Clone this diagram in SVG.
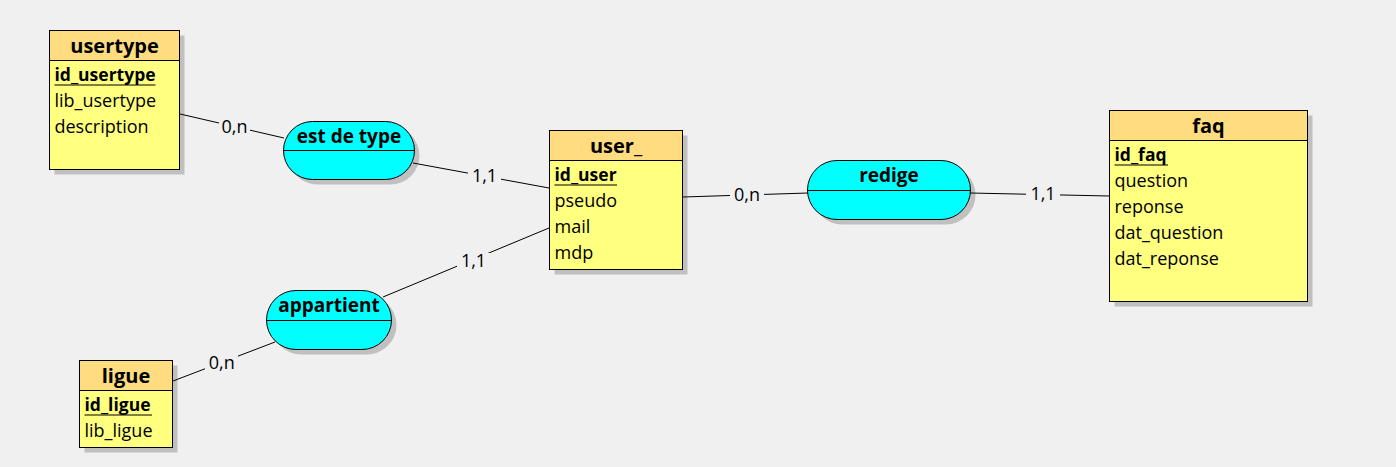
<svg xmlns="http://www.w3.org/2000/svg" width="1396" height="467" viewBox="0 0 1396 467">
<style>
text{font-family:"Open Sans","Noto Sans","DejaVu Sans",sans-serif;fill:#000}
.sh{fill:#c0c0c0}
.hd{fill:#ffdc80;stroke:#000;stroke-width:1}
.bd{fill:#ffff80;stroke:#000;stroke-width:1}
.pl{fill:#00ffff;stroke:#000;stroke-width:1}
.dv{stroke:#000;stroke-width:1}
.t{font-size:20px;font-weight:bold;text-anchor:middle}
.pt{font-size:19px;font-weight:bold;text-anchor:middle}
.k{font-size:17.5px;font-weight:bold}
.a{font-size:18px}
.ul{stroke:#000;stroke-width:1.2}
.ln{stroke:#000;stroke-width:1;fill:none}
.bg{fill:#f0f0f0}
.lb{font-size:18px;text-anchor:middle}
</style>
<rect width="1396" height="467" fill="#f0f0f0"/>
<g id="usertype">
<rect class="sh" x="54.5" y="35.5" width="130" height="139"/>
<rect class="bd" x="49.5" y="30.5" width="130" height="139"/>
<rect class="hd" x="49.5" y="30.5" width="130" height="30"/>
<text class="t" x="114.5" y="53">usertype</text>
<text class="k" x="54.5" y="81">id_usertype</text>
<line class="ul" x1="54.5" y1="85" x2="155.5" y2="85"/>
<text class="a" x="54.5" y="107">lib_usertype</text>
<text class="a" x="54.5" y="133">description</text>
</g>
<g id="user_">
<rect class="sh" x="554.5" y="135.5" width="133" height="139"/>
<rect class="bd" x="549.5" y="130.5" width="133" height="139"/>
<rect class="hd" x="549.5" y="130.5" width="133" height="30"/>
<text class="t" x="616" y="153">user_</text>
<text class="k" x="554.5" y="181">id_user</text>
<line class="ul" x1="554.5" y1="185" x2="617" y2="185"/>
<text class="a" x="554.5" y="207">pseudo</text>
<text class="a" x="554.5" y="233">mail</text>
<text class="a" x="554.5" y="259">mdp</text>
</g>
<g id="faq">
<rect class="sh" x="1114.5" y="115.5" width="198" height="191"/>
<rect class="bd" x="1109.5" y="110.5" width="198" height="191"/>
<rect class="hd" x="1109.5" y="110.5" width="198" height="30"/>
<text class="t" x="1208.5" y="133">faq</text>
<text class="k" x="1114.5" y="161">id_faq</text>
<line class="ul" x1="1114.5" y1="165" x2="1168" y2="165"/>
<text class="a" x="1114.5" y="187">question</text>
<text class="a" x="1114.5" y="213">reponse</text>
<text class="a" x="1114.5" y="239">dat_question</text>
<text class="a" x="1114.5" y="265">dat_reponse</text>
</g>
<g id="ligue">
<rect class="sh" x="84.5" y="365.5" width="93" height="87"/>
<rect class="bd" x="79.5" y="360.5" width="93" height="87"/>
<rect class="hd" x="79.5" y="360.5" width="93" height="30"/>
<text class="t" x="126" y="383">ligue</text>
<text class="k" x="84.5" y="411">id_ligue</text>
<line class="ul" x1="84.5" y1="415" x2="152" y2="415"/>
<text class="a" x="84.5" y="437">lib_ligue</text>
</g>
<g id="est_de_type">
<rect class="sh" x="288.5" y="126.5" width="131" height="58" rx="29"/>
<rect class="pl" x="283.5" y="121.5" width="131" height="58" rx="29"/>
<line class="dv" x1="283.5" y1="150.5" x2="414.5" y2="150.5"/>
<text class="pt" x="349" y="143">est de type</text>
</g>
<g id="redige">
<rect class="sh" x="812.5" y="165.5" width="163" height="59" rx="29.5"/>
<rect class="pl" x="807.5" y="160.5" width="163" height="59" rx="29.5"/>
<line class="dv" x1="807.5" y1="190.5" x2="970.5" y2="190.5"/>
<text class="pt" x="889" y="182">redige</text>
</g>
<g id="appartient">
<rect class="sh" x="271.5" y="295.5" width="125" height="59" rx="29.5"/>
<rect class="pl" x="266.5" y="290.5" width="125" height="59" rx="29.5"/>
<line class="dv" x1="266.5" y1="320.5" x2="391.5" y2="320.5"/>
<text class="pt" x="329" y="312">appartient</text>
</g>
<g id="connectors">
<line class="ln" x1="180" y1="114" x2="284" y2="138"/>
<line class="ln" x1="413" y1="163" x2="549" y2="188"/>
<line class="ln" x1="683" y1="197" x2="808" y2="193"/>
<line class="ln" x1="970" y1="193" x2="1109" y2="196"/>
<line class="ln" x1="549" y1="228" x2="383" y2="297"/>
<line class="ln" x1="275" y1="342" x2="173" y2="381"/>
<rect class="bg" x="219" y="119" width="31" height="17"/>
<text class="lb" x="234.5" y="133">0,n</text>
<rect class="bg" x="468" y="168" width="33" height="17"/>
<text class="lb" x="484.5" y="182">1,1</text>
<rect class="bg" x="730" y="187" width="34" height="17"/>
<text class="lb" x="747" y="201">0,n</text>
<rect class="bg" x="1026" y="186" width="34" height="17"/>
<text class="lb" x="1043" y="200">1,1</text>
<rect class="bg" x="457" y="253" width="33" height="17"/>
<text class="lb" x="473.5" y="267">1,1</text>
<rect class="bg" x="205" y="355" width="33" height="17"/>
<text class="lb" x="221.7" y="369">0,n</text>
</g>
</svg>
